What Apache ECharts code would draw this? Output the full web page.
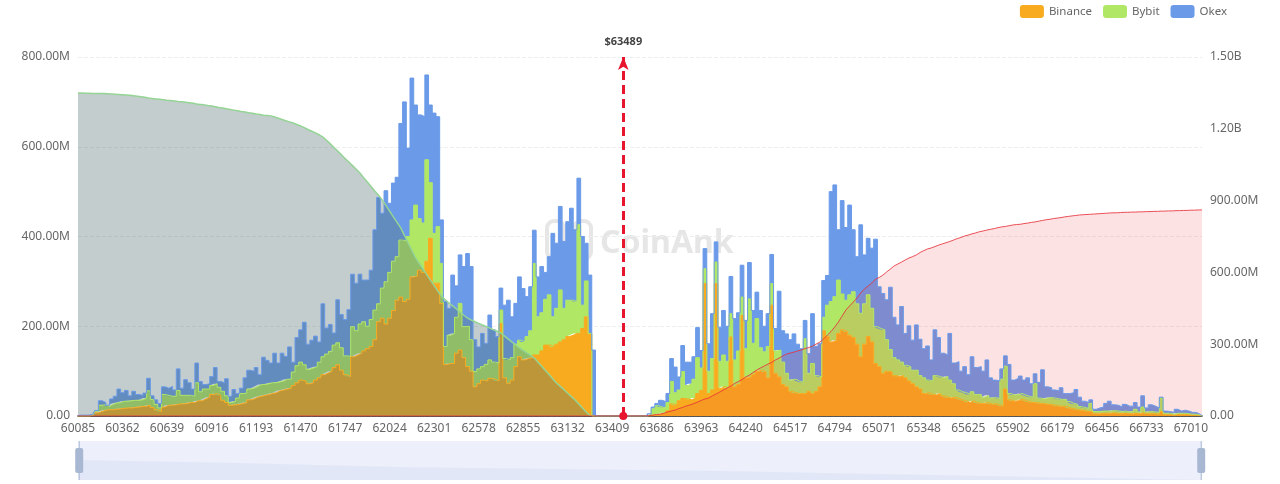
<!DOCTYPE html>
<html>
<head>
<meta charset="utf-8">
<title>Liquidation map</title>
<script src="https://cdn.jsdelivr.net/npm/echarts@6/dist/echarts.min.js"></script>
<style>
  body { margin: 0; background: #fff; }
  #chart { width: 1280px; height: 484px; }
</style>
</head>
<body>
<div id="chart"></div>
<script>
// all values in millions
const binance = [
  0,0,0,0,1,7,10,13,14,14, 15,16,17,18,18,19,20,21,22,24,
  19,14,10,20,24,24,25,27,27,28, 30,30,34,34,38,42,48,50,46,35,
  30,24,25,26,28,30,36,38,42,44, 46,48,50,52,56,58,60,62,68,74,80,
  78,72,74,80,85,92,96,100,108,114, 102,92,88,132,136,140,145,150,155,170,
  210,218,205,218,235,258,265,255,260,310, 312,325,320,345,396,296,296,251,115,117,
  117,140,147,130,110,100,65,72,80,78, 84,82,78,206,85,73,80,110,132,125,
  128,130,136,136,145,158,158,154,160,165, 170,177,180,184,184,195,221,184,0,0,
  0,0,0,0,0,0,0,0,0,0,0, 0,0,0,2,3,5,7,12,27,24,
  34,39,38,36,40,50,57,295,50,58, 295,62,66,62,176,65,70,224,85,87,
  92,100,102,98,85,247,95,87,70,65, 55,52,50,50,50,55,50,55,65,190,
  177,165,169,184,192,188,180,175,160,132, 160,177,165,117,110,95,100,98,90,88,
  90,85,78,72,65,60,50,52,48,47, 50,45,42,40,42,39,36,34,30,34,
  30,28,28,30,26,27,25,22,60,36, 33,34,37,35,32,30,30,28,28,26,26,
  24,22,22,21,18,16,14,13,12,10, 10,5,5,6,6,6,7,6,5,6,
  5,5,6,5,8,5,5,5,4,10, 3,3,2,3,3,3,3,2,2,1,0
];
const bybit = [
  0,0,0,0,1,3,14,12,8,12, 14,14,16,15,16,16,15,15,18,32,
  18,12,8,28,22,20,19,30,19,18, 16,14,40,20,22,18,20,22,18,20,
  15,6,8,14,22,21,24,24,24,26, 24,24,24,22,20,20,22,20,30,38,40,
  36,32,33,30,35,40,42,44,50,49, 50,42,45,67,54,65,65,50,60,66,
  40,67,94,102,110,97,127,135,140,127, 158,115,110,226,124,111,126,89,40,63,
  67,80,104,69,90,70,34,33,30,37, 41,38,40,30,43,52,50,50,37,40,
  49,60,204,85,85,102,112,67,80,116, 70,81,78,71,242,52,80,0,0,0,
  0,0,0,0,0,0,0,0,0,0,0, 0,0,4,14,20,15,12,18,50,28,
  24,60,30,36,42,80,50,33,50,70, 48,60,70,60,52,60,75,41,65,174,
  70,117,50,45,70,48,50,60,50,30, 25,30,28,25,122,40,67,35,22,30,
  70,90,97,119,80,70,90,102,90,97, 90,93,75,82,85,97,70,50,40,37,
  30,28,32,30,37,30,35,28,30,43, 38,40,46,40,30,19,18,18,18,20,
  18,20,14,16,14,14,14,60,51,14, 14,14,13,12,12,12,42,12,10,14,15,
  16,16,15,16,14,12,12,8,7,7, 18,5,5,5,5,5,5,5,5,5,
  4,5,9,4,12,4,5,4,4,30, 3,3,2,3,3,3,2,2,2,1,0
];
const okex = [
  1,2,2,2,2,2,10,5,2,12, 15,30,19,24,11,20,13,10,11,28,
  8,10,10,17,16,22,14,48,16,35, 28,16,44,23,10,12,20,36,13,19,
  38,14,26,10,12,34,42,38,42,22, 61,52,44,66,42,62,51,72,22,63,72,
  95,56,62,68,45,118,58,60,27,96, 74,81,104,117,106,111,93,103,110,179,
  237,167,203,154,174,177,260,310,197,316, 223,231,237,189,173,268,245,97,100,60,
  130,70,108,134,162,163,71,49,74,47, 100,72,59,49,119,133,91,91,141,119,
  89,98,74,89,103,60,85,186,145,186, 149,175,205,160,104,153,84,130,147,0,
  0,0,0,0,0,0,0,0,0,0,0, 0,0,1,4,5,15,13,20,51,57,
  29,58,52,48,50,67,39,45,61,100, 45,76,99,78,83,92,85,71,63,81,
  73,59,83,57,73,65,50,131,70,88, 90,101,82,75,41,44,111,65,74,82,
  66,245,249,112,208,162,200,138,105,197, 109,126,134,195,93,81,89,139,90,78,
  124,71,91,67,101,81,65,76,47,102, 87,55,48,104,46,63,46,58,44,78,
  60,62,58,79,45,39,39,23,23,65, 33,36,39,33,41,30,22,35,65,25,22,
  18,18,26,13,18,24,33,21,14,13, 8,5,8,9,17,22,13,13,10,15,
  13,12,15,11,25,9,15,13,10,2, 5,4,4,9,5,7,6,4,4,2,1
];
// cumulative curves, right axis
const longDepth = [
  1350,1350,1349,1349,1348,1348,1347,1347,1346,1345,1344,1343,1342,1341,1340,1338,1336,1334,1332,1329,
  1327,1325,1323,1321,1319,1318,1316,1314,1313,1311,1309,1307,1304,1302,1300,1297,1295,1292,1289,1287,
  1284,1281,1278,1275,1272,1270,1267,1265,1262,1260,1257,1256,1254,1249,1244,1239,1234,1229,1224,1218,1212,
  1205,1197,1190,1183,1175,1166,1152,1137,1122,1107,1091,1076,1061,1046,1031,1015,996,978,959,940,
  922,903,880,856,832,809,786,755,723,692,661,638,615,591,568,545,522,500,486,472,
  460,447,434,421,409,401,394,387,380,374,367,360,354,347,334,321,309,296,285,274,
  264,253,242,225,208,190,173,155,138,124,110,95,81,67,50,33,17,2
];
const shortCurve = [
  2,4,6,8,12,17,21,25,31,36,42,46,52,58,65,71,75,84,92,100,
  109,117,125,136,144,152,163,171,182,192,201,209,217,224,234,242,251,259,263,267,
  272,276,282,286,292,301,309,322,338,353,372,393,418,443,460,476,493,514,531,543,
  556,572,579,589,602,614,627,635,643,652,660,666,673,683,691,698,702,708,714,719,
  724,729,735,741,746,752,756,761,765,770,773,777,780,783,787,790,792,795,798,800,801,
  804,806,809,811,814,817,820,822,825,827,829,832,834,836,838,840,841,842,843,844,
  845,846,847,848,849,849,850,851,851,852,852,853,853,854,854,855,855,856,856,857,
  857,858,858,859,859,860,860,861,861
];
const shortDepth = new Array(binance.length - shortCurve.length).fill(0).concat(shortCurve);

const sliderShadow = [20, 17, 13, 11, 9, 6, 3, 0];

const firstPrice = 60085;
const labelStep = 277;
const pointsPerLabel = 12;
const currentPriceIndex = 147;
const currentPriceText = "$63489";

const prices = binance.map((v, i) => String(firstPrice + Math.round((i * labelStep) / pointsPerLabel)));

const font = '"Noto Sans", sans-serif';
const textColor = "#666";

function leftLabel(v) {
  return v === 0 ? "0.00" : v.toFixed(2) + "M";
}
function rightLabel(v) {
  if (v === 0) return "0.00";
  return v >= 1000 ? (v / 1000).toFixed(2) + "B" : v.toFixed(2) + "M";
}

function stacked(name, data, color) {
  return {
    name: name,
    type: "line",
    stack: "volume",
    step: "middle",
    showSymbol: false,
    data: data,
    lineStyle: { color: color, width: 1 },
    itemStyle: { color: color },
    areaStyle: { color: color, opacity: 1 },
    emphasis: { disabled: true },
  };
}

const chart = echarts.init(document.getElementById("chart"));

chart.setOption({
  animation: false,
  textStyle: { fontFamily: font },
  legend: {
    data: ["Binance", "Bybit", "Okex"],
    top: 5,
    right: 53,
    padding: 0,
    icon: "roundRect",
    itemWidth: 24,
    itemHeight: 13,
    itemGap: 11,
    textStyle: { fontFamily: font, fontSize: 11.5, color: textColor },
  },
  grid: [
    { left: 78, right: 78, top: 57, bottom: 68 },
    { left: 78, right: 78, top: 441, height: 39 },
  ],
  xAxis: [
    {
      type: "category",
      data: prices,
      boundaryGap: false,
      axisTick: { show: false },
      axisLine: { lineStyle: { color: "#222", width: 1.5 } },
      axisLabel: { interval: pointsPerLabel - 1, color: textColor, fontSize: 12, margin: 7, fontFamily: font },
    },
    { type: "category", gridIndex: 1, show: false, boundaryGap: false, data: sliderShadow.map((v, i) => i) },
  ],
  yAxis: [
    {
      type: "value",
      min: 0,
      max: 800,
      interval: 200,
      axisLine: { show: false },
      axisTick: { show: false },
      axisLabel: { formatter: leftLabel, color: textColor, fontSize: 12, margin: 8, fontFamily: font },
      splitLine: { lineStyle: { color: "#eee", type: "dashed" } },
    },
    {
      type: "value",
      min: 0,
      max: 1500,
      interval: 300,
      position: "right",
      axisLine: { show: false },
      axisTick: { show: false },
      axisLabel: { formatter: rightLabel, color: textColor, fontSize: 12, margin: 8, fontFamily: font },
      splitLine: { show: false },
    },
    { type: "value", gridIndex: 1, show: false, min: 0, max: 39 },
  ],
  dataZoom: [
    {
      type: "slider",
      xAxisIndex: 0,
      left: 78,
      right: 78,
      top: 441,
      height: 39,
      start: 0,
      end: 100,
      showDetail: false,
      showDataShadow: false,
      brushSelect: false,
      moveHandleSize: 0,
      borderColor: "transparent",
      backgroundColor: "transparent",
      fillerColor: "rgba(60,90,200,0.09)",
      handleIcon: "path://M3.5 0 h1 v39 h-1 z M2 7 h4 q2 0 2 2 v21 q0 2 -2 2 h-4 q-2 0 -2 -2 v-21 q0 -2 2 -2 z",
      handleSize: "100%",
      handleStyle: { color: "#a9b8d2", borderColor: "#a9b8d2", borderWidth: 0 },
    },
  ],
  graphic: [
    {
      type: "group",
      z: 0,
      silent: true,
      children: [
        { type: "rect", shape: { x: 547, y: 221, width: 17, height: 38, r: 7 }, style: { fill: "none", stroke: "#e6e6e6", lineWidth: 4 } },
        { type: "rect", shape: { x: 574, y: 221, width: 17, height: 38, r: 7 }, style: { fill: "none", stroke: "#e6e6e6", lineWidth: 4 } },
        { type: "text", style: { x: 600, y: 244, text: "CoinAnk", fill: "#e6e6e6", font: 'bold 32px "Noto Sans", sans-serif', textVerticalAlign: "middle" } },
      ],
    },
  ],
  series: [
    stacked("Binance", binance, "#f8ab1e"),
    stacked("Bybit", bybit, "#b0e765"),
    stacked("Okex", okex, "#6a9ae8"),
    {
      name: "longDepth",
      type: "line",
      yAxisIndex: 1,
      showSymbol: false,
      data: longDepth,
      lineStyle: { color: "#94d494", width: 1.5 },
      itemStyle: { color: "#94d494" },
      areaStyle: { color: "rgba(84,112,112,0.35)", opacity: 1 },
      emphasis: { disabled: true },
    },
    {
      name: "shortDepth",
      type: "line",
      yAxisIndex: 1,
      showSymbol: false,
      data: shortDepth,
      lineStyle: { color: "rgba(230,50,60,0.85)", width: 1 },
      itemStyle: { color: "#e63c46" },
      areaStyle: { color: "rgba(240,60,70,0.15)", opacity: 1 },
      emphasis: { disabled: true },
      markLine: {
        silent: true,
        symbol: ["circle", "arrow"],
        symbolSize: [8, 13],
        lineStyle: { color: "#e8152f", width: 3, type: [9, 5] },
        itemStyle: { color: "#e8152f" },
        label: {
          show: true,
          position: "end",
          distance: 10,
          formatter: currentPriceText,
          color: "#444",
          fontSize: 11,
          fontWeight: "bold",
          fontFamily: font,
        },
        data: [{ xAxis: currentPriceIndex }],
      },
    },
    {
      name: "sliderShadow",
      type: "line",
      xAxisIndex: 1,
      yAxisIndex: 2,
      showSymbol: false,
      silent: true,
      data: sliderShadow,
      lineStyle: { width: 0 },
      areaStyle: { color: "rgba(80,110,220,0.07)", opacity: 1 },
    },
  ],
});

window.addEventListener("resize", function () {
  chart.resize();
});
</script>
</body>
</html>
